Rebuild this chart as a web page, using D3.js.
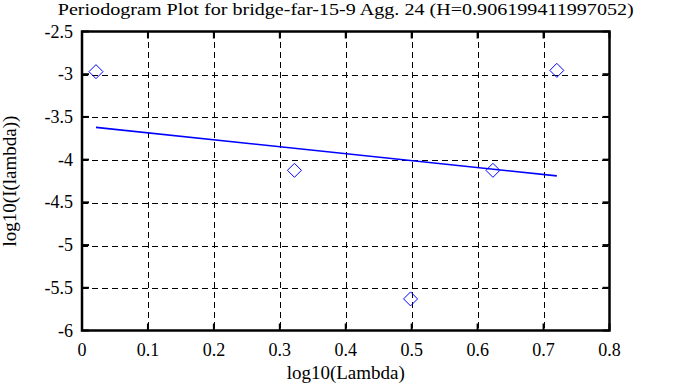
<!DOCTYPE html>
<html>
  <head>
    <meta charset="utf-8">
    <title>Periodogram Plot</title>
    <script src="https://d3js.org/d3.v7.min.js"></script>
    <style>
        body { margin: 0; background: white; }
        svg text { font-family: "Liberation Serif", "DejaVu Serif", serif; fill: black; }
        .grid line { stroke: black; stroke-width: 1px; stroke-dasharray: 6,4; shape-rendering: crispEdges; }
        .tick-label { font-size: 18px; }
    </style>
  </head>
  <body>
    <div id="chart"></div>
    <script>
        // log10 of the frequency and of the periodogram value
        var lambdaLog = [0.0212, 0.3222, 0.4983, 0.6232, 0.7201];
        var periodLog = [-2.97, -4.125, -5.63, -4.125, -2.955];

        // least squares fit shown in blue
        var fitX = [0.0212, 0.7201];
        var fitY = [-3.622, -4.19];

        var xTicks = [0, 0.1, 0.2, 0.3, 0.4, 0.5, 0.6, 0.7, 0.8];
        var yTicks = [-6, -5.5, -5, -4.5, -4, -3.5, -3, -2.5];

        var titleText = "Periodogram Plot for bridge-far-15-9 Agg. 24 (H=0.906199411997052)";

        var W = 683, H = 387;
        var margin = { top: 31.5, right: 73.5, bottom: 56.5, left: 82 };
        var width = W - margin.left - margin.right;
        var height = H - margin.top - margin.bottom;

        var svg = d3.select("#chart")
          .append("svg")
            .attr("width", W)
            .attr("height", H)
            .style("display", "block");

        svg.append("rect")
            .attr("width", W)
            .attr("height", H)
            .attr("fill", "white");

        var g = svg.append("g")
            .attr("transform", "translate(" + margin.left + "," + margin.top + ")");

        var x = d3.scaleLinear().domain([0, 0.8]).range([0, width]);
        var y = d3.scaleLinear().domain([-6, -2.5]).range([height, 0]);

        // dashed grid
        var grid = g.append("g").attr("class", "grid");
        grid.selectAll("line.v")
          .data(xTicks.slice(1, -1))
          .enter()
          .append("line")
            .attr("x1", function(d) { return Math.round(x(d)) + 0.5; })
            .attr("x2", function(d) { return Math.round(x(d)) + 0.5; })
            .attr("y1", 0)
            .attr("y2", height);
        grid.selectAll("line.h")
          .data(yTicks.slice(1, -1))
          .enter()
          .append("line")
            .attr("y1", function(d) { return Math.round(y(d)) + 0.5; })
            .attr("y2", function(d) { return Math.round(y(d)) + 0.5; })
            .attr("x1", 0)
            .attr("x2", width);

        // inward ticks on all four sides
        var tickLen = 7;
        var ticks = g.append("g")
            .attr("stroke", "black")
            .attr("stroke-width", 2);
        xTicks.forEach(function(d) {
          ticks.append("line")
            .attr("x1", x(d)).attr("x2", x(d))
            .attr("y1", height).attr("y2", height - tickLen);
          ticks.append("line")
            .attr("x1", x(d)).attr("x2", x(d))
            .attr("y1", 0).attr("y2", tickLen);
        });
        yTicks.forEach(function(d) {
          ticks.append("line")
            .attr("y1", y(d)).attr("y2", y(d))
            .attr("x1", 0).attr("x2", tickLen);
          ticks.append("line")
            .attr("y1", y(d)).attr("y2", y(d))
            .attr("x1", width).attr("x2", width - tickLen);
        });

        // frame
        g.append("rect")
            .attr("width", width)
            .attr("height", height)
            .attr("fill", "none")
            .attr("stroke", "black")
            .attr("stroke-width", 2.5);

        // tick labels (plain hyphen for the minus, as in the original)
        g.selectAll("text.xl")
          .data(xTicks)
          .enter()
          .append("text")
            .attr("class", "tick-label")
            .attr("x", function(d) { return x(d); })
            .attr("y", height + 25)
            .attr("text-anchor", "middle")
            .text(function(d) { return String(d); });

        g.selectAll("text.yl")
          .data(yTicks)
          .enter()
          .append("text")
            .attr("class", "tick-label")
            .attr("x", -9)
            .attr("y", function(d) { return y(d) + 6; })
            .attr("text-anchor", "end")
            .text(function(d) { return String(d); });

        // fit line
        var line = d3.line()
            .x(function(d) { return x(d[0]); })
            .y(function(d) { return y(d[1]); });
        g.append("path")
            .datum(d3.zip(fitX, fitY))
            .attr("d", line)
            .attr("fill", "none")
            .attr("stroke", "#0000ff")
            .attr("stroke-width", 1.6);

        // diamonds
        g.selectAll("path.pt")
          .data(d3.zip(lambdaLog, periodLog))
          .enter()
          .append("path")
            .attr("transform", function(d) { return "translate(" + x(d[0]) + "," + y(d[1]) + ")"; })
            .attr("d", "M0,-7L7,0L0,7L-7,0Z")
            .attr("fill", "none")
            .attr("stroke", "#0000ff")
            .attr("stroke-width", 1);

        // title and axis titles
        svg.append("text")
            .attr("x", margin.left + width / 2)
            .attr("y", 15)
            .attr("text-anchor", "middle")
            .attr("textLength", 576)
            .attr("lengthAdjust", "spacingAndGlyphs")
            .style("font-size", "17px")
            .text(titleText);

        svg.append("text")
            .attr("x", margin.left + width / 2)
            .attr("y", 379)
            .attr("text-anchor", "middle")
            .style("font-size", "19px")
            .text("log10(Lambda)");

        svg.append("text")
            .attr("transform", "translate(16," + (margin.top + height / 2) + ") rotate(-90)")
            .attr("text-anchor", "middle")
            .style("font-size", "19px")
            .text("log10(I(lambda))");
    </script>
  </body>
</html>
